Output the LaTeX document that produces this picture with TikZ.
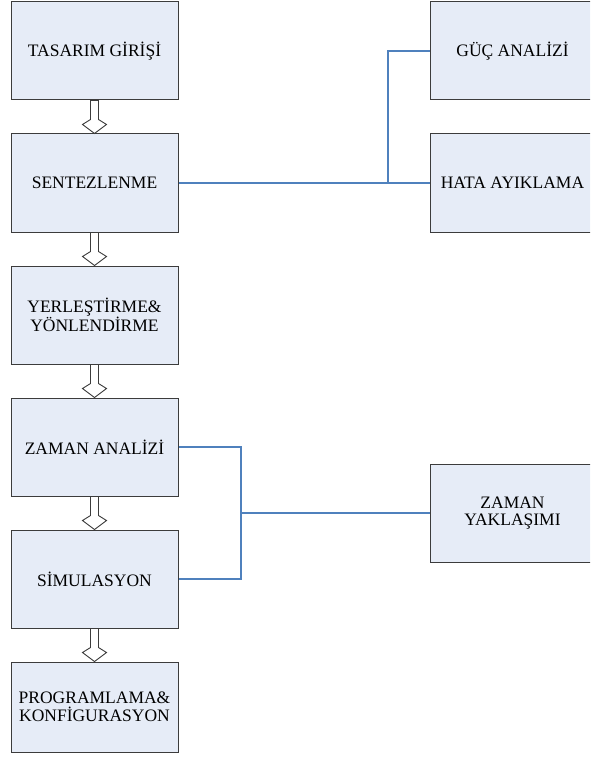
\documentclass[tikz,border=0pt]{standalone}
\usepackage{fontspec}
\setmainfont{Liberation Serif}
\usetikzlibrary{calc}
\definecolor{boxfill}{HTML}{E6ECF7}
\definecolor{boxline}{HTML}{3C3C3C}
\definecolor{conn}{HTML}{4F81BD}
\tikzset{
  stage/.style={draw=boxline, fill=boxfill, line width=1pt, minimum width=167pt, minimum height=98pt, inner sep=0pt, align=center, font=\fontsize{17.5}{17.5}\selectfont},
  side/.style={stage, minimum width=165pt},
  link/.style={draw=conn, line width=1.1pt},
  flowarrow/.style={draw=boxline, fill=white, line width=0.9pt, line join=miter}
}
\begin{document}
\begin{tikzpicture}[x=1pt,y=-1pt]
\clip (0,0) rectangle (590,767);
\fill[white] (0,0) rectangle (590,767);
\node[stage] (tas) at (94.5,51) {TASARIM GİRİŞİ};
\node[stage] (sen) at (94.5,183) {SENTEZLENME};
\node[stage] (yer) at (94.5,315) {YERLEŞTİRME\&\\YÖNLENDİRME};
\node[stage] (zan) at (94.5,447) {ZAMAN ANALİZİ};
\node[stage] (sim) at (94.5,579) {SİMULASYON};
\node[stage, minimum height=90pt] (pro) at (94.5,707) {PROGRAMLAMA\&\\KONFİGURASYON};
\node[side] (guc) at (512.5,51) {GÜÇ ANALİZİ};
\node[side] (hata) at (512.5,183) {HATA AYIKLAMA};
\node[side] (zy) at (512.5,513) {ZAMAN\\YAKLAŞIMI};
\foreach \a/\b in {tas/sen, sen/yer, yer/zan, zan/sim, sim/pro}{
  \path[flowarrow] (\a.south) ++(-4,0) -- ++(0,19) -- ++(-8,5) -- (\b.north) -- ++(12,-9) -- ++(-8,-5) -- ++(0,-19) -- cycle;
}
\coordinate (j1) at (388,183);
\coordinate (j2) at (388,51);
\draw[link] (sen.east) -- (j1) -- (hata.west);
\draw[link] (j1) -- (j2) -- (guc.west);
\coordinate (k1) at (241,447);
\coordinate (k2) at (241,579);
\coordinate (k3) at (241,513);
\draw[link] (zan.east) -- (k1) -- (k2) -- (sim.east);
\draw[link] (k3) -- (zy.west);
\end{tikzpicture}
\end{document}
